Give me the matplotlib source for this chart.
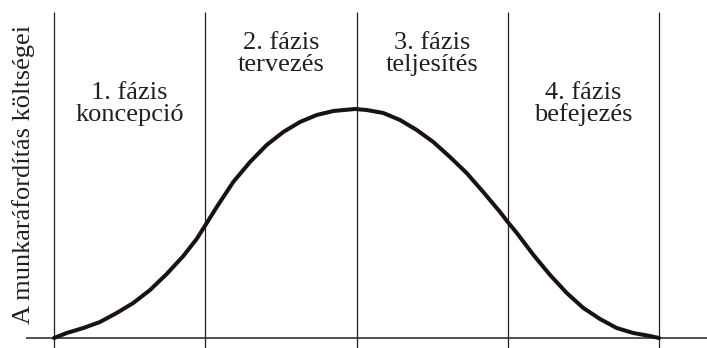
import matplotlib.pyplot as plt

plt.rcParams['font.family'] = ['Liberation Serif', 'DejaVu Serif']

# curve: x in phase units, y in arbitrary cost units
curve_x = [0.0, 0.084, 0.194, 0.304, 0.414, 0.524, 0.635, 0.745, 0.855, 0.943,
           1.01, 1.076, 1.185, 1.296, 1.406, 1.516, 1.626, 1.737, 1.847, 1.99,
           2.067, 2.177, 2.288, 2.398, 2.508, 2.618, 2.728, 2.838, 2.949, 3.0,
           3.06, 3.17, 3.28, 3.39, 3.50, 3.61, 3.72, 3.83, 3.94, 4.0]
curve_y = [0, 5, 10, 16, 25, 35, 48, 64, 82, 99,
           115, 131, 156, 176, 193, 206, 216, 223, 227, 229,
           228, 225, 218, 208, 196, 181, 165, 146, 126, 116,
           105, 83, 63, 45, 30, 19, 10, 5, 2, 0]

phase_bounds = [0, 1, 2, 3, 4]
phase_labels = ["1. fázis\nkoncepció", "2. fázis\ntervezés",
                "3. fázis\nteljesítés", "4. fázis\nbefejezés"]
label_heights = [234, 284, 284, 234]
ylabel = "A munkaráfordítás költségei"

fig = plt.figure(figsize=(7.07, 3.48), dpi=100)
ax = fig.add_axes([0, 0, 1, 1])
ax.set_xlim(-54 / 151.25, (707 - 54) / 151.25)
ax.set_ylim(-10, 338)
ax.axis('off')

# phase boundaries (first one doubles as y axis)
ax.vlines(phase_bounds, -10, 326, color='#222222', linewidth=0.9)
ax.hlines(0, -28 / 151.25, 5, color='#222222', linewidth=1.1)

ax.plot(curve_x, curve_y, color='#1a1212', linewidth=2.9,
        solid_capstyle='round', solid_joinstyle='round')

for i, lab in enumerate(phase_labels):
    ax.text(i + 0.5, label_heights[i], lab, ha='center', va='center',
            fontsize=19, linespacing=1.0, color='#231f20')

ax.text(-30 / 151.25, 164, ylabel, rotation=90, ha='center', va='center',
        fontsize=19, color='#231f20')

fig.savefig('out.png', dpi=100)
